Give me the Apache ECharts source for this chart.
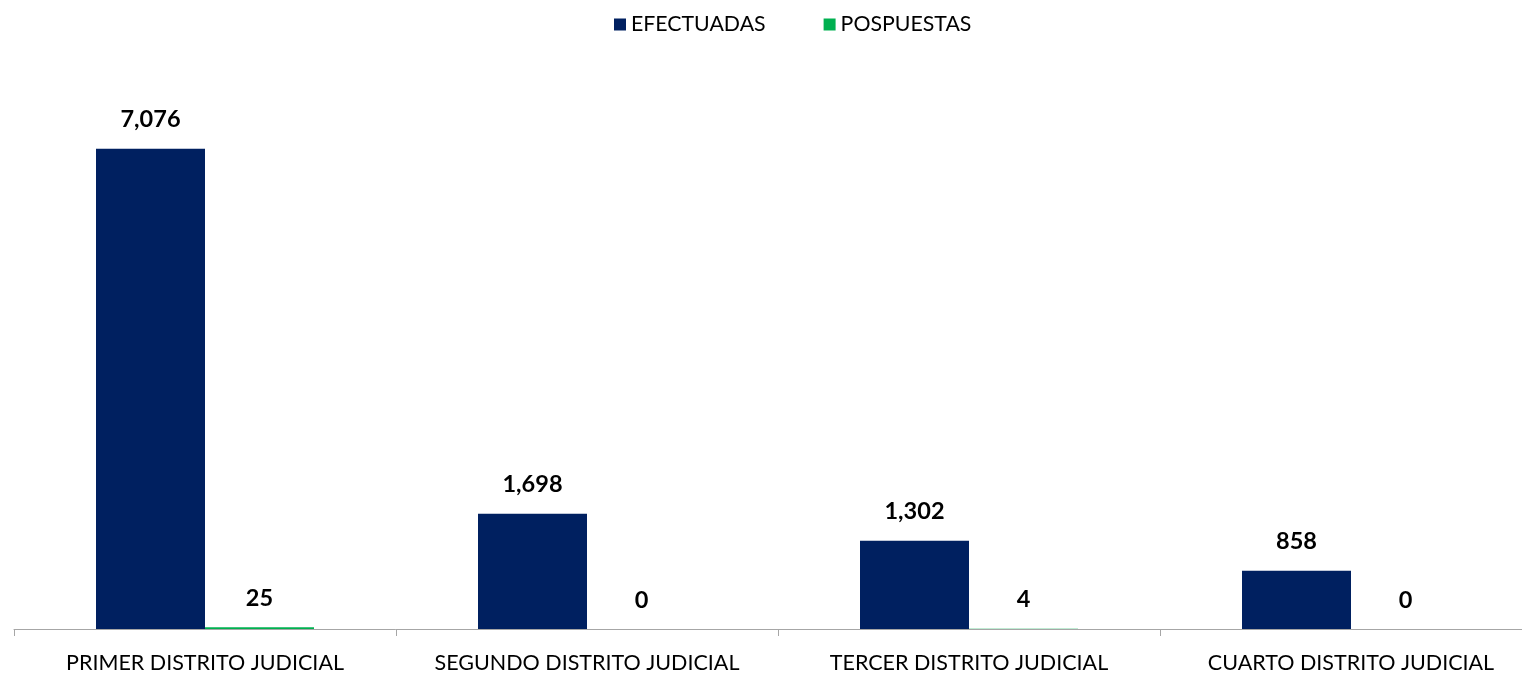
<!DOCTYPE html>
<html>
<head>
<meta charset="utf-8">
<script src="https://cdn.jsdelivr.net/npm/echarts@6/dist/echarts.min.js"></script>
<style>
html, body { margin: 0; padding: 0; background: #fff; overflow: hidden; width: 1522px; height: 674px; }
#main { width: 1542px; height: 674px; }
</style>
</head>
<body>
<div id="main"></div>
<script>
// datos de la grafica
var distritos = ['PRIMER DISTRITO JUDICIAL', 'SEGUNDO DISTRITO JUDICIAL', 'TERCER DISTRITO JUDICIAL', 'CUARTO DISTRITO JUDICIAL'];
var efectuadas = [7076, 1698, 1302, 858];
var pospuestas = [25, 0, 4, 0];

// el area del grafico es un poco mas ancha que la ventana (se corta a la derecha)
var myChart = echarts.init(document.getElementById('main'));

var etiqueta = {
    show: true,
    position: 'top',
    distance: 17,
    color: '#000',
    fontFamily: 'Lato',
    fontWeight: 'bold',
    fontSize: 23.5,
    formatter: function (p) {
        return p.value.toLocaleString('en-US');
    }
};

var option = {
    animation: false,
    textStyle: { fontFamily: 'Lato' },
    legend: {
        top: 9,
        left: 609,
        itemWidth: 12,
        itemHeight: 12,
        itemGap: 58,
        icon: 'rect',
        textStyle: { fontSize: 21.3, color: '#000', fontFamily: 'Lato' },
        data: ['EFECTUADAS', 'POSPUESTAS']
    },
    grid: {
        left: 14,
        right: 0,
        top: 86,
        bottom: 45
    },
    xAxis: [{
        type: 'category',
        data: distritos,
        axisLine: { lineStyle: { color: '#a6a6a6', width: 1 } },
        axisTick: { show: true, length: 7, lineStyle: { color: '#a6a6a6' } },
        axisLabel: { interval: 0, fontSize: 21.5, color: '#000', margin: 23, fontFamily: 'Lato' }
    }],
    yAxis: [{
        type: 'value',
        min: 0,
        max: 8000,
        show: false,
        splitLine: { show: false }
    }],
    series: [{
        name: 'EFECTUADAS',
        type: 'bar',
        barWidth: 109,
        barGap: '0%',
        itemStyle: { color: '#002060' },
        label: etiqueta,
        data: efectuadas
    }, {
        name: 'POSPUESTAS',
        type: 'bar',
        barWidth: 109,
        itemStyle: { color: '#00b050' },
        label: etiqueta,
        data: pospuestas
    }]
};

myChart.setOption(option);
</script>
</body>
</html>
